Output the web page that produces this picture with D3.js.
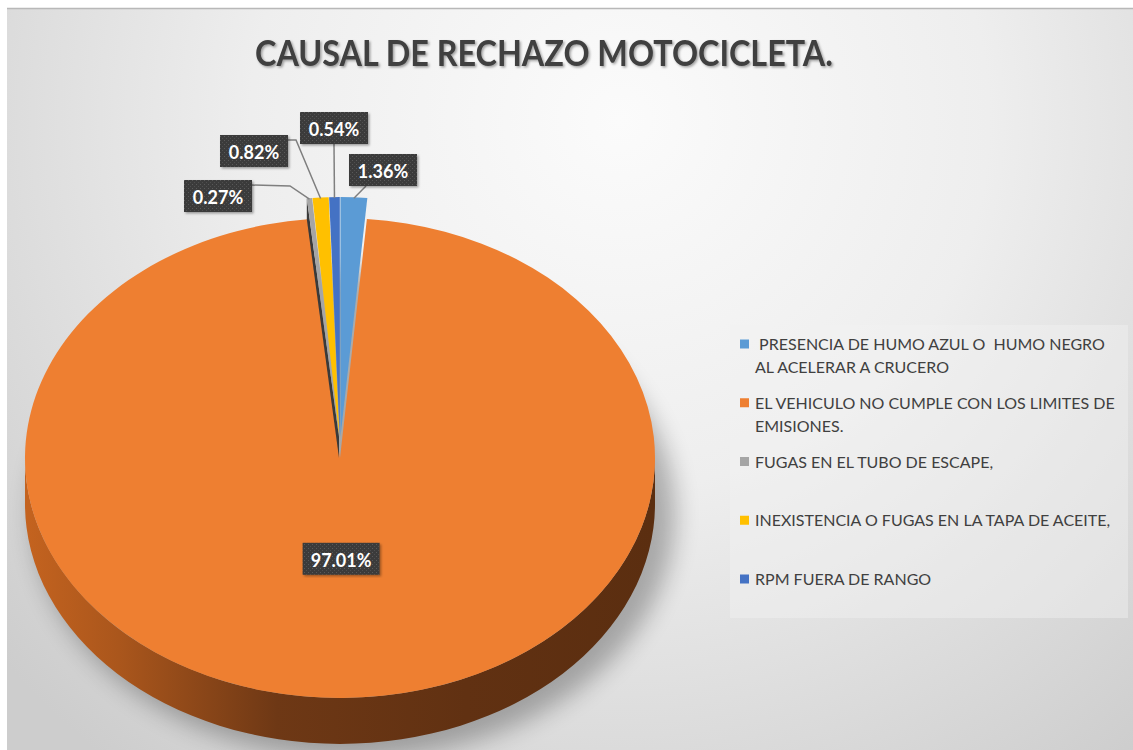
<!DOCTYPE html>
<meta charset="utf-8">
<head>
<title>Causal de rechazo motocicleta</title>
<script src="https://d3js.org/d3.v7.min.js"></script>
<style>
  body { margin: 0; background: #fff; }
  svg { display: block; font-family: Lato, "Open Sans", sans-serif; }
</style>
</head>
<body>
<div id="chart"></div>
<script>

    // data
    let categories = [" PRESENCIA DE HUMO AZUL O  HUMO NEGRO AL ACELERAR A CRUCERO",
                      "EL VEHICULO NO CUMPLE CON LOS LIMITES DE EMISIONES.",
                      "FUGAS EN EL TUBO DE ESCAPE,",
                      "INEXISTENCIA O FUGAS EN LA TAPA DE ACEITE,",
                      "RPM FUERA DE RANGO"];
    let legendLines = [[" PRESENCIA DE HUMO AZUL O  HUMO NEGRO", "AL ACELERAR A CRUCERO"],
                       ["EL VEHICULO NO CUMPLE CON LOS LIMITES DE", "EMISIONES."],
                       ["FUGAS EN EL TUBO DE ESCAPE,"],
                       ["INEXISTENCIA O FUGAS EN LA TAPA DE ACEITE,"],
                       ["RPM FUERA DE RANGO"]];
    let values = [1.36, 97.01, 0.27, 0.82, 0.54];
    let colors = ["#5B9BD5", "#EE7F31", "#A5A5A5", "#FFC000", "#4472C4"];
    let title = "CAUSAL DE RECHAZO MOTOCICLETA.";

    let w = 1133;
    let h = 750;

    // pie geometry (tilted 3D look)
    let cx = 340, cy = 458, rx = 315, ry = 240, depth = 46;
    let explode = 21;   // small slices are pulled out upwards

    let svg = d3.select("#chart")
                .append("svg")
                .attr("width", w)
                .attr("height", h);

    let defs = svg.append("defs");

    let bg = defs.append("radialGradient")
                 .attr("id", "bg")
                 .attr("gradientUnits", "userSpaceOnUse")
                 .attr("cx", 620).attr("cy", 120).attr("r", 820);
    bg.append("stop").attr("offset", "0").attr("stop-color", "#fbfbfb");
    bg.append("stop").attr("offset", "0.45").attr("stop-color", "#eeeeee");
    bg.append("stop").attr("offset", "1").attr("stop-color", "#cdcdcd");

    let side = defs.append("linearGradient")
                   .attr("id", "side")
                   .attr("gradientUnits", "userSpaceOnUse")
                   .attr("x1", cx - rx).attr("x2", cx + rx)
                   .attr("y1", 0).attr("y2", 0);
    side.append("stop").attr("offset", "0").attr("stop-color", "#c4631f");
    side.append("stop").attr("offset", "0.15").attr("stop-color", "#aa561c");
    side.append("stop").attr("offset", "0.4").attr("stop-color", "#6e3815");
    side.append("stop").attr("offset", "0.7").attr("stop-color", "#613112");
    side.append("stop").attr("offset", "1").attr("stop-color", "#5b2e10");

    defs.append("filter").attr("id", "blur")
        .attr("x", "-20%").attr("y", "-20%").attr("width", "140%").attr("height", "140%")
        .append("feGaussianBlur").attr("stdDeviation", 12);

    defs.append("filter").attr("id", "tshadow")
        .append("feDropShadow")
        .attr("dx", 1.5).attr("dy", 1.5).attr("stdDeviation", 1.2)
        .attr("flood-color", "#000").attr("flood-opacity", 0.35);

    let pat = defs.append("pattern")
                  .attr("id", "dots")
                  .attr("patternUnits", "userSpaceOnUse")
                  .attr("width", 4).attr("height", 4);
    pat.append("rect").attr("width", 4).attr("height", 4).attr("fill", "#3b3b3b");
    pat.append("rect").attr("width", 1).attr("height", 1).attr("fill", "#5a5a5a");
    pat.append("rect").attr("x", 2).attr("y", 2).attr("width", 1).attr("height", 1).attr("fill", "#4f4f4f");

    // chart area
    svg.append("rect")
       .attr("x", 7).attr("y", 8)
       .attr("width", w - 7).attr("height", h - 8)
       .attr("fill", "url(#bg)");
    svg.append("line")
       .attr("x1", 7).attr("x2", w).attr("y1", 8.5).attr("y2", 8.5)
       .attr("stroke", "#b8b8b8").attr("stroke-width", 1.5);

    // title
    svg.append("text")
       .attr("x", 544).attr("y", 66)
       .attr("text-anchor", "middle")
       .attr("textLength", 578)
       .attr("lengthAdjust", "spacingAndGlyphs")
       .attr("filter", "url(#tshadow)")
       .style("font-size", "37px")
       .style("font-weight", "bold")
       .style("fill", "#404040")
       .text(title);

    let pie = d3.pie().sort(null).value((d) => d);
    let arcs = pie(values);

    let pt = (a, dy) => [cx + rx * Math.sin(a), cy - ry * Math.cos(a) + (dy || 0)];
    let off = (d) => d.index == 1 ? [0, 0] :
        [explode * Math.sin((d.startAngle + d.endAngle) / 2) * 0.5,
         -explode * Math.cos((d.startAngle + d.endAngle) / 2)];

    // soft shadow under the pie
    svg.append("ellipse")
       .attr("cx", cx + 14).attr("cy", cy + depth + 10)
       .attr("rx", rx + 6).attr("ry", ry + 4)
       .attr("fill", "#000")
       .attr("opacity", 0.28)
       .attr("filter", "url(#blur)");

    // front side wall (only the big slice reaches the front)
    let r0 = pt(Math.PI / 2), l0 = pt(3 * Math.PI / 2);
    svg.append("path")
       .attr("d", "M" + r0 + " A" + rx + "," + ry + " 0 0 1 " + l0 +
                  " L" + [l0[0], l0[1] + depth] +
                  " A" + rx + "," + ry + " 0 0 0 " + [r0[0], r0[1] + depth] + " Z")
       .attr("fill", "url(#side)");

    // top faces: d3.arc on a circle, squashed to an ellipse
    let arc = d3.arc().innerRadius(0).outerRadius(rx);

    let topG = svg.append("g");
    let slices = topG.selectAll("g.slice")
                    .data(arcs)
                    .enter()
                    .append("g")
                    .attr("class", "slice")
                    .attr("transform", (d) => {
                        let o = off(d);
                        return "translate(" + (cx + o[0]) + "," + (cy + o[1]) + ") scale(1," + (ry / rx) + ")";
                    });

    slices.append("path")
          .attr("d", arc)
          .attr("fill", (d, i) => colors[i]);

    // radial cut face of the exploded group (left edge of the grey slice)
    let grey = arcs[2];
    let go = off(grey);
    let gp = pt(grey.startAngle);
    topG.insert("path", "g.slice:nth-child(3)")
       .attr("d", "M" + [cx + go[0], cy + go[1]] +
                  " L" + [gp[0] + go[0], gp[1] + go[1]] +
                  " L" + [gp[0] + go[0], gp[1]] +
                  " L" + [cx + go[0], cy] + " Z")
       .attr("fill", "#3a3a3a");

    // data labels
    let labelArc = d3.arc().innerRadius(rx * 0.42).outerRadius(rx * 0.42);

    // layout of the outside labels: box centre, where the leader leaves the box, optional elbow
    let labelLayout = [
        { x: 383, y: 170, from: [366, 186], elbow: null },
        null,
        { x: 218, y: 196, from: [251, 185], elbow: [290, 186] },
        { x: 254, y: 151, from: [288, 140], elbow: [296, 140] },
        { x: 334, y: 128, from: [334, 144], elbow: null }
    ];

    let fmt = (v) => v.toFixed(2) + "%";

    arcs.forEach((d, i) => {
        let lay = labelLayout[i];
        let o = off(d);
        let bx, by;
        if (lay) {
            let end = pt((d.startAngle + d.endAngle) / 2);
            end = [end[0] + o[0], end[1] + o[1] + 1];
            let pts = [lay.from];
            if (lay.elbow) pts.push(lay.elbow);
            pts.push(end);
            svg.append("path")
               .attr("d", d3.line()(pts))
               .attr("fill", "none")
               .attr("stroke", "#7f7f7f")
               .attr("stroke-width", 1.5);
            bx = lay.x; by = lay.y;
        } else {
            let c = labelArc.centroid(d);
            bx = cx + c[0];
            by = cy + c[1] * ry / rx;
        }
        let txt = fmt(values[i]);
        let bw = txt.length > 5 ? 77 : 68;
        svg.append("rect")
           .attr("x", bx - bw / 2).attr("y", by - 16)
           .attr("width", bw).attr("height", 32)
           .attr("fill", "url(#dots)")
           .attr("filter", "url(#tshadow)");
        svg.append("text")
           .attr("x", bx).attr("y", by + 1)
           .attr("text-anchor", "middle")
           .attr("dominant-baseline", "central")
           .style("font-size", "18px")
           .style("font-weight", "bold")
           .style("fill", "#fff")
           .text(txt);
    });

    // legend
    svg.append("rect")
       .attr("x", 730).attr("y", 325)
       .attr("width", 398).attr("height", 293)
       .attr("fill", "#f2f2f2")
       .attr("opacity", 0.45);

    let ly = d3.scaleLinear().domain([0, 4]).range([344, 579]);

    let legend = svg.selectAll("g.legend")
                    .data(categories)
                    .enter()
                    .append("g")
                    .attr("class", "legend")
                    .attr("transform", (d, i) => "translate(740," + ly(i) + ")");

    legend.append("rect")
          .attr("x", 0).attr("y", -4.5)
          .attr("width", 9).attr("height", 9)
          .attr("fill", (d, i) => colors[i]);

    legend.each(function(d, i) {
        d3.select(this).selectAll("text")
          .data(legendLines[i])
          .enter()
          .append("text")
          .attr("x", 15)
          .attr("y", (t, j) => 6 + j * 23)
          .attr("xml:space", "preserve")
          .style("white-space", "pre")
          .style("font-size", "16px")
          .style("fill", "#404040")
          .text((t) => t);
    });

</script>
</body>
